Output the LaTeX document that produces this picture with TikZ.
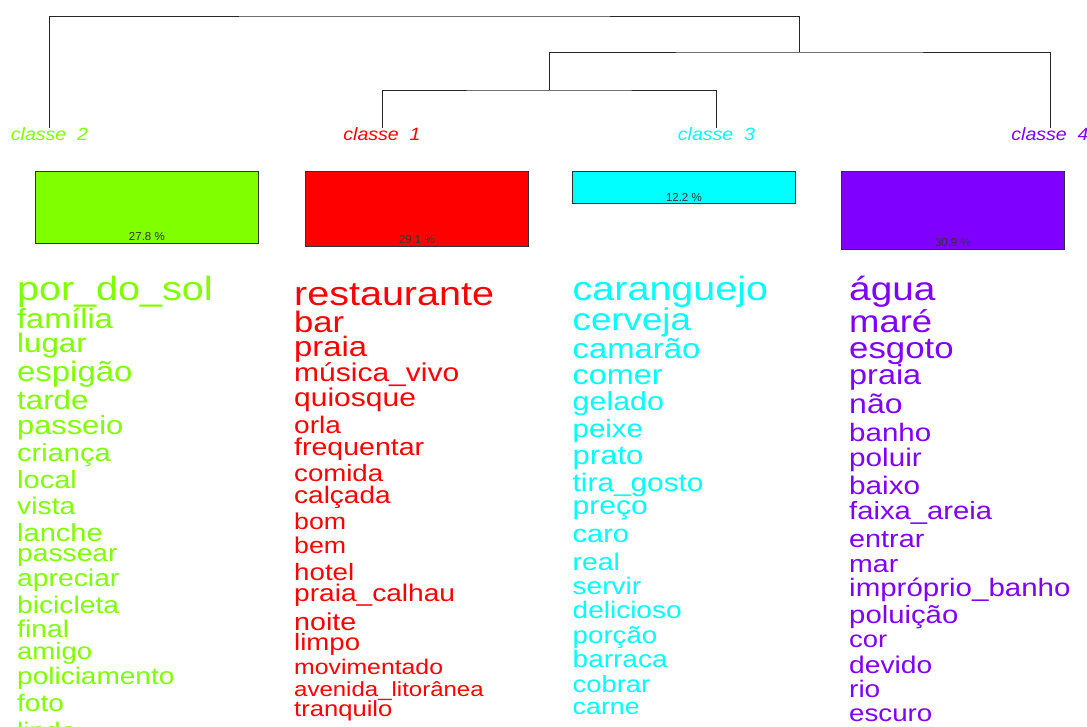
\documentclass[tikz,border=0pt]{standalone}
\usepackage{fontspec}
\usepackage{graphicx}
\setmainfont{Liberation Sans}
\usetikzlibrary{positioning}
\definecolor{cor1}{HTML}{FF0000}
\definecolor{cor2}{HTML}{80FF00}
\definecolor{cor3}{HTML}{00FFFF}
\definecolor{cor4}{HTML}{8000FF}
\newcommand{\largo}[1]{\scalebox{1.17}[1]{#1}}

\begin{document}
\begin{tikzpicture}[x=1pt,y=-1pt]
		\tikzstyle{Classe} = [inner sep=0pt, font=\fontsize{17.8}{18}\selectfont\itshape]
		\tikzstyle{Barra} = [rectangle, minimum width=223pt, inner sep=0pt, anchor=north west, draw=black!80, line width=0.8pt]
		\tikzstyle{Pct} = [anchor=south, inner sep=2.5pt, font=\fontsize{11.5}{12}\selectfont, text=black!80]
		\tikzstyle{Palavra} = [anchor=base west, inner sep=0pt]
		\tikzstyle{Ramo} = [line width=1pt, black!85]
		
		%\draw[step=50,gray,very thin] (0,0) grid (1087,726);
		\useasboundingbox (0,0) rectangle (1087,726);
		\clip (0,0) rectangle (1087,726);
		
		\node (c2) [Classe, text=cor2] at (49.5,134.5) {\scalebox{1.1}[1]{classe\ \ 2}};
		\node (c1) [Classe, text=cor1] at (382,134.5) {\scalebox{1.1}[1]{classe\ \ 1}};
		\node (c3) [Classe, text=cor3] at (716.5,134.5) {\scalebox{1.1}[1]{classe\ \ 3}};
		\node (c4) [Classe, text=cor4] at (1050,134.5) {\scalebox{1.1}[1]{classe\ \ 4}};
		\coordinate (j13) at (549,90);
		\coordinate (j134) at (799,52);
		\coordinate (jall) at (424.5,16);
		\draw[Ramo] (c1.north) |- (j13) -| (c3.north);
		\draw[Ramo] (j13) |- (j134) -| (c4.north);
		\draw[Ramo] (c2.north) |- (jall) -| (j134);
		
		\node (b2) [Barra, fill=cor2, minimum height=72pt] at (35,171) {};
		\node (b1) [Barra, fill=cor1, minimum height=75pt] at (305,171) {};
		\node (b3) [Barra, fill=cor3, minimum height=32pt] at (572,171) {};
		\node (b4) [Barra, fill=cor4, minimum height=78pt] at (841,171) {};
		\node (p2) [Pct] at (b2.south) {27.8 \%};
		\node (p1) [Pct] at (b1.south) {29.1 \%};
		\node (p3) [Pct] at (b3.south) {12.2 \%};
		\node (p4) [Pct] at (b4.south) {30.9 \%};
		
		\foreach \w/\y/\s [count=\i, evaluate=\s as \t using \s/1.17] in {por\_do\_sol/292/39.5, família/321/32.5, lugar/346/31.3, espigão/374/32.9, tarde/403/31.3, passeio/428/30.8, criança/455/29, local/482/29, vista/508/28.3, lanche/535/29, passear/555/28.2, apreciar/580/28.3, bicicleta/607/28.2, final/631/28.3, amigo/653/27.5, policiamento/678/28, foto/705/28, lindo/733/28}
			\node (g\i) [Palavra, text=cor2, font=\fontsize{\t}{\t}\selectfont] at (17,{\y+0.26*\t}) {\largo{\w}};
		\foreach \w/\y/\s [count=\i, evaluate=\s as \t using \s/1.17] in {restaurante/297/39.5, bar/325/34.6, praia/349/32.8, música\_vivo/375/30, quiosque/400/30, orla/427/28, frequentar/449/28.5, comida/475/27.6, calçada/497/28, bom/524/26.7, bem/548/26.7, hotel/574/27.7, praia\_calhau/595/28.1, noite/624/28.6, limpo/644/27.6, movimentado/669/24.8, avenida\_litorânea/691/24, tranquilo/711/25.6}
			\node (r\i) [Palavra, text=cor1, font=\fontsize{\t}{\t}\selectfont] at (294,{\y+0.26*\t}) {\largo{\w}};
		\foreach \w/\y/\s [count=\i, evaluate=\s as \t using \s/1.17] in {caranguejo/292/39.5, cerveja/322/36.7, camarão/351/32.8, comer/377/32.4, gelado/404/30.4, peixe/431/29.4, prato/458/31, tira\_gosto/485/29.8, preço/508/30, caro/536/29, real/564/28.3, servir/588/28, delicioso/612/28, porção/637/27.7, barraca/661/28, cobrar/686/27.4, carne/709/26.8}
			\node (a\i) [Palavra, text=cor3, font=\fontsize{\t}{\t}\selectfont] at (572.5,{\y+0.26*\t}) {\largo{\w}};
		\foreach \w/\y/\s [count=\i, evaluate=\s as \t using \s/1.17] in {água/292/38.8, maré/324/36.4, esgoto/351/34.8, praia/377/32.4, não/406/32, banho/435/29.5, poluir/460/29.7, baixo/488/29.7, faixa\_areia/513/29.2, entrar/541/28.8, mar/566/28.5, impróprio\_banho/590/29.5, poluição/617/29.3, cor/641/27.4, devido/667/28.2, rio/691/28, escuro/715/27.7}
			\node (v\i) [Palavra, text=cor4, font=\fontsize{\t}{\t}\selectfont] at (849,{\y+0.26*\t}) {\largo{\w}};
\end{tikzpicture}
\end{document}
